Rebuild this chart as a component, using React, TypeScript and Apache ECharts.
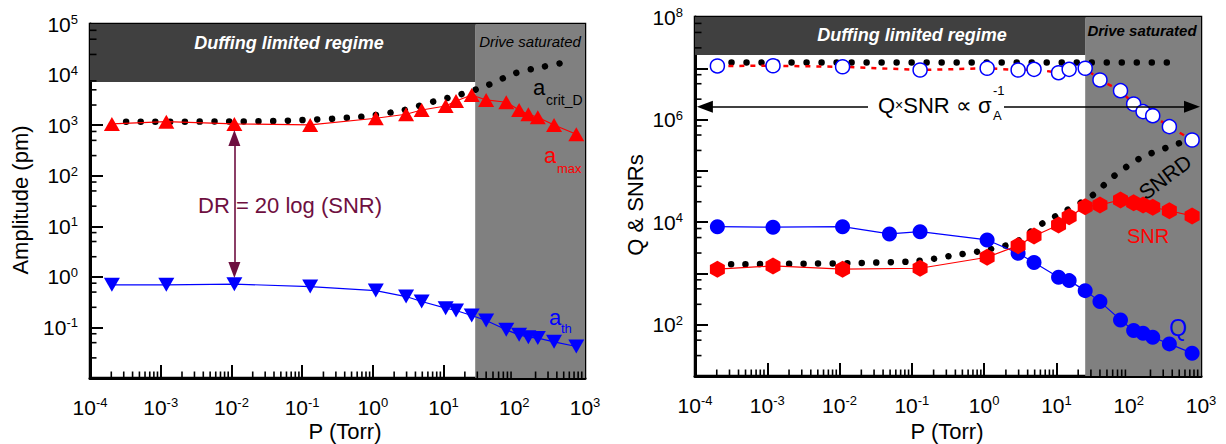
import React, { useEffect, useRef } from 'react';
import * as echarts from 'echarts';

const FONT = "'Liberation Sans', Arial, Helvetica, sans-serif";

// ---------- shared pressure points (Torr) ----------
const P = [2.04e-4, 1.2e-3, 1.1e-2, 0.13, 1.1, 2.95, 4.9, 10.7, 15, 25, 40, 77, 117, 158, 215, 365, 753];

// ---------- left panel: amplitudes (pm) ----------
const aMax = [1057, 1172, 1057, 1009, 1368, 1641, 1995, 2393, 3006, 3953, 3148, 2836, 1995, 1641, 1432, 1009, 661];
const aTh = [0.695, 0.695, 0.718, 0.643, 0.536, 0.408, 0.325, 0.24, 0.216, 0.172, 0.137, 0.0897, 0.0714, 0.0643, 0.0615, 0.0519, 0.042];
const aCritP = [3.24e-4, 0.01, 0.062, 0.68, 2.75, 7.1, 17.8, 42.7, 102, 257, 656];
const aCrit = [1170, 1180, 1225, 1469, 1990, 2909, 4077, 6220, 10600, 14300, 18500];

// ---------- right panel: Q & SNRs ----------
const QP = [2.04e-4, 1.2e-3, 1.1e-2, 0.049, 0.13, 1.1, 2.95, 4.9, 10.7, 15, 25, 40, 77, 117, 158, 215, 365, 753];
const Q = [8170, 7960, 8170, 5890, 6530, 4500, 2480, 1630, 844, 724, 462, 282, 124, 76.8, 68.3, 57, 42.3, 27.9];
const SNR = [1208, 1400, 1208, 1262, 2070, 3480, 5380, 8810, 12800, 20000, 21600, 27100, 24000, 21600, 19500, 16700, 13200];
const QxSNR = [1.11e7, 1.12e7, 1.07e7, 9.27e6, 1.0e7, 9.27e6, 9.55e6, 8.2e6, 9.55e6, 1.0e7, 5.92e6, 3.66e6, 2.01e6, 1.43e6, 1.19e6, 7.28e5, 4.0e5];
const snrDP = [3.16e-4, 0.094, 0.417, 1.08, 2.81, 5.6, 13.5, 30.7, 61, 143, 334, 527];
const snrD = [1510, 1700, 2300, 2870, 4170, 8430, 16700, 32400, 77000, 176000, 283000, 355000];
const topDotP = [3.2e-4, 0.01, 1, 100, 540];
const topDot = [1.29e7, 1.29e7, 1.29e7, 1.29e7, 1.29e7];

// ---------- regions ----------
const satStartL = 28;
const satStartR = 25;
const bandBottomL = 7.1e3;
const bandBottomR = 1.82e7;

const zip = (xs: number[], ys: number[]) => xs.map((x, i) => [x, ys[i]]);

const rich = {
  b: { fontSize: 21, lineHeight: 22, fontFamily: FONT, color: '#000' },
  s: { fontSize: 13, lineHeight: 8, verticalAlign: 'top', fontFamily: FONT, color: '#000' },
};
const expo = (v: number) => Math.round(Math.log10(v));

function xAxisCfg(gridIndex: number) {
  return {
    type: 'log', gridIndex, logBase: 10, min: 1e-4, max: 1e3, splitNumber: 7,
    axisLine: { show: true, onZero: false, lineStyle: { color: '#000', width: 3 } },
    axisTick: { show: true, inside: true, length: 13, lineStyle: { color: '#000', width: 2 } },
    axisLabel: { show: true, margin: 18, showMinLabel: true, showMaxLabel: true, formatter: (v: number) => `{b|10}{s|${expo(v)}}`, rich },
    splitLine: { show: false },
  };
}
function yAxisCfg(gridIndex: number, min: number, max: number, show: (e: number) => boolean) {
  return {
    type: 'log', gridIndex, logBase: 10, min, max, splitNumber: 7,
    axisLine: { show: true, onZero: false, lineStyle: { color: '#000', width: 3 } },
    axisTick: { show: true, inside: true, length: 13, lineStyle: { color: '#000', width: 2 } },
    axisLabel: { show: true, margin: 12, showMinLabel: true, showMaxLabel: true, formatter: (v: number) => (show(expo(v)) ? `{b|10}{s|${expo(v)}}` : ''), rich },
    splitLine: { show: false },
  };
}

function minorX(yMin: number) {
  const out: number[][] = [];
  for (let k = -4; k < 3; k++) for (let m = 2; m <= 9; m++) out.push([m * Math.pow(10, k), yMin]);
  return out;
}
function minorY(xMin: number, k0: number, k1: number) {
  const out: number[][] = [];
  for (let k = k0; k < k1; k++) for (const m of [2.5, 5, 7.5]) out.push([xMin, m * Math.pow(10, k)]);
  return out;
}
function tickSeries(idx: number, data: number[][], dir: 'x' | 'y') {
  return {
    type: 'custom', xAxisIndex: idx, yAxisIndex: idx, data, z: 10, silent: true, clip: false,
    renderItem: (_p: any, api: any) => {
      const p = api.coord([api.value(0), api.value(1)]);
      const shape = dir === 'x'
        ? { x1: p[0], y1: p[1], x2: p[0], y2: p[1] - 6.5 }
        : { x1: p[0], y1: p[1], x2: p[0] + 6.5, y2: p[1] };
      return { type: 'line', shape, style: { stroke: '#000', lineWidth: 1.6 } };
    },
  };
}

const dotted = (w: number, gap: number) => ({ color: '#000', width: w, type: [0.01, gap], cap: 'round' });

function txt(x: number, y: number, text: string, o: any = {}) {
  return {
    type: 'text', x, y, z: 100, rotation: o.rotation || 0, silent: true,
    style: {
      text, fill: o.fill || '#000', fontSize: o.fontSize || 22, fontFamily: FONT,
      fontWeight: o.fontWeight || 'normal', fontStyle: o.fontStyle || 'normal',
      align: o.align || 'left', verticalAlign: 'middle',
    },
  };
}

const PURPLE = '#6e0f40';

const option: any = {
  animation: false,
  backgroundColor: '#fff',
  grid: [
    { left: 90, top: 24, width: 495, height: 354, show: true, borderColor: '#000', borderWidth: 2.5, backgroundColor: 'transparent' },
    { left: 695, top: 17, width: 506, height: 359, show: true, borderColor: '#000', borderWidth: 2.5, backgroundColor: 'transparent' },
  ],
  xAxis: [xAxisCfg(0), xAxisCfg(1)],
  yAxis: [
    yAxisCfg(0, 1e-2, 1e5, (e) => e >= -1),
    yAxisCfg(1, 1e1, 1e8, (e) => e % 2 === 0),
  ],
  series: [
    // ---- left background regions ----
    {
      type: 'line', xAxisIndex: 0, yAxisIndex: 0, data: [], z: 1, silent: true,
      markArea: {
        silent: true, label: { show: false },
        data: [
          [{ xAxis: satStartL, yAxis: 1e-2, itemStyle: { color: '#808080', opacity: 1 } }, { xAxis: 1e3, yAxis: 1e5 }],
          [{ xAxis: 1e-4, yAxis: bandBottomL, itemStyle: { color: '#404040', opacity: 1 } }, { xAxis: satStartL, yAxis: 1e5 }],
        ],
      },
    },
    {
      type: 'line', xAxisIndex: 0, yAxisIndex: 0, data: zip(aCritP, aCrit), showSymbol: false, smooth: 0.3,
      lineStyle: dotted(6.5, 14.7), z: 3, silent: true,
    },
    {
      type: 'line', xAxisIndex: 0, yAxisIndex: 0, data: zip(P, aMax), symbol: 'triangle', symbolSize: [16, 14],
      itemStyle: { color: '#ff0000' }, lineStyle: { color: '#ff0000', width: 1.2 }, z: 4, silent: true,
    },
    {
      type: 'line', xAxisIndex: 0, yAxisIndex: 0, data: zip(P, aTh), symbol: 'triangle', symbolRotate: 180, symbolSize: [16, 14],
      itemStyle: { color: '#0000ff' }, lineStyle: { color: '#0000ff', width: 1.2 }, z: 4, silent: true,
    },
    {
      type: 'line', xAxisIndex: 0, yAxisIndex: 0, data: [], z: 5, silent: true,
      markLine: {
        silent: true, symbol: ['triangle', 'triangle'], symbolSize: [12, 16], label: { show: false },
        lineStyle: { color: PURPLE, width: 1.6, type: 'solid' },
        data: [[{ coord: [0.011, 557] }, { coord: [0.011, 1.36] }]],
      },
    },
    tickSeries(0, minorX(1e-2), 'x'),
    tickSeries(0, minorY(1e-4, -2, 5), 'y'),

    // ---- right background regions ----
    {
      type: 'line', xAxisIndex: 1, yAxisIndex: 1, data: [], z: 1, silent: true,
      markArea: {
        silent: true, label: { show: false },
        data: [
          [{ xAxis: satStartR, yAxis: 1e1, itemStyle: { color: '#808080', opacity: 1 } }, { xAxis: 1e3, yAxis: 1e8 }],
          [{ xAxis: 1e-4, yAxis: bandBottomR, itemStyle: { color: '#404040', opacity: 1 } }, { xAxis: satStartR, yAxis: 1e8 }],
        ],
      },
    },
    {
      type: 'line', xAxisIndex: 1, yAxisIndex: 1, data: zip(topDotP, topDot), showSymbol: false,
      lineStyle: dotted(6.5, 15), z: 3, silent: true,
    },
    {
      type: 'line', xAxisIndex: 1, yAxisIndex: 1, data: zip(snrDP, snrD), showSymbol: false, smooth: 0.3,
      lineStyle: dotted(6.5, 14.5), z: 3, silent: true,
    },
    {
      type: 'line', xAxisIndex: 1, yAxisIndex: 1, data: zip(P, QxSNR), symbol: 'circle', symbolSize: 14,
      itemStyle: { color: '#ffffff', borderColor: '#0000ff', borderWidth: 1.5 },
      lineStyle: { color: '#ff0000', width: 2.5, type: [5, 6] }, z: 4, silent: true,
    },
    {
      type: 'line', xAxisIndex: 1, yAxisIndex: 1, data: zip(QP, Q), symbol: 'circle', symbolSize: 15,
      itemStyle: { color: '#0000ff' }, lineStyle: { color: '#0000ff', width: 1.2 }, z: 4, silent: true,
    },
    {
      type: 'line', xAxisIndex: 1, yAxisIndex: 1, data: zip(P, SNR),
      symbol: 'path://M0,-1 L0.866,-0.5 L0.866,0.5 L0,1 L-0.866,0.5 L-0.866,-0.5 Z', symbolKeepAspect: false, symbolSize: [15, 17],
      itemStyle: { color: '#ff0000' }, lineStyle: { color: '#ff0000', width: 1.2 }, z: 4, silent: true,
    },
    {
      type: 'line', xAxisIndex: 1, yAxisIndex: 1, data: [], z: 5, silent: true,
      markLine: {
        silent: true, symbol: ['triangle', 'triangle'], symbolSize: [12, 16], label: { show: false },
        lineStyle: { color: '#000', width: 1.6, type: 'solid' },
        data: [[{ coord: [1.37e-4, 1.78e6] }, { coord: [750, 1.78e6] }]],
      },
    },
    tickSeries(1, minorX(1e1), 'x'),
    tickSeries(1, minorY(1e-4, 1, 8), 'y'),
  ],
  graphic: [
    // left panel texts
    txt(289, 43, 'Duffing limited regime', { fill: '#fff', fontWeight: 'bold', fontStyle: 'italic', fontSize: 18, align: 'center' }),
    txt(530, 41, 'Drive saturated', { fontStyle: 'italic', fontSize: 15, align: 'center' }),
    txt(198, 205, 'DR = 20 log (SNR)', { fill: PURPLE, fontSize: 22 }),
    txt(533, 87, 'a', { fontSize: 22 }),
    txt(546, 100, 'crit_D', { fontSize: 14 }),
    txt(544, 155, 'a', { fontSize: 22, fill: '#ff0000' }),
    txt(557, 168, 'max', { fontSize: 13, fill: '#ff0000' }),
    txt(549, 317, 'a', { fontSize: 22, fill: '#0000ff' }),
    txt(561, 328.5, 'th', { fontSize: 13, fill: '#0000ff' }),
    txt(20, 200, 'Amplitude (pm)', { fontSize: 22, align: 'center', rotation: Math.PI / 2 }),
    txt(345, 431, 'P (Torr)', { fontSize: 22, align: 'center' }),
    // right panel texts
    txt(912, 35, 'Duffing limited regime', { fill: '#fff', fontWeight: 'bold', fontStyle: 'italic', fontSize: 18, align: 'center' }),
    txt(1142, 30, 'Drive saturated', { fontWeight: 'bold', fontStyle: 'italic', fontSize: 15, align: 'center' }),
    { type: 'rect', z: 99, silent: true, shape: { x: 868, y: 95, width: 136, height: 24 }, style: { fill: '#fff' } },
    {
      type: 'text', x: 878, y: 105, z: 100, silent: true,
      style: {
        text: '{m|Q}{x|×}{m|SNR ∝ σ}', verticalAlign: 'middle', align: 'left',
        rich: {
          m: { fontSize: 22, fontFamily: FONT, fill: '#000', color: '#000' },
          x: { fontSize: 14, fontFamily: FONT, fill: '#000', color: '#000' },
        },
      },
    },
    txt(993, 90, '-1', { fontSize: 13 }),
    txt(993, 115, 'A', { fontSize: 13 }),
    txt(1165, 177, 'SNRD', { fontSize: 21, align: 'center', rotation: 0.64 }),
    txt(1127, 236, 'SNR', { fontSize: 20, fill: '#ff0000' }),
    txt(1169, 328, 'Q', { fontSize: 23, fill: '#0000ff' }),
    txt(635, 205, 'Q & SNRs', { fontSize: 22, align: 'center', rotation: Math.PI / 2 }),
    txt(947, 431, 'P (Torr)', { fontSize: 22, align: 'center' }),
  ],
};

export default function App() {
  const ref = useRef<HTMLDivElement>(null);
  useEffect(() => {
    document.body.style.margin = '0';
    const chart = echarts.init(ref.current as HTMLDivElement, null, { renderer: 'svg' });
    chart.setOption(option);
    return () => chart.dispose();
  }, []);
  return <div ref={ref} style={{ width: 1226, height: 444 }} />;
}
